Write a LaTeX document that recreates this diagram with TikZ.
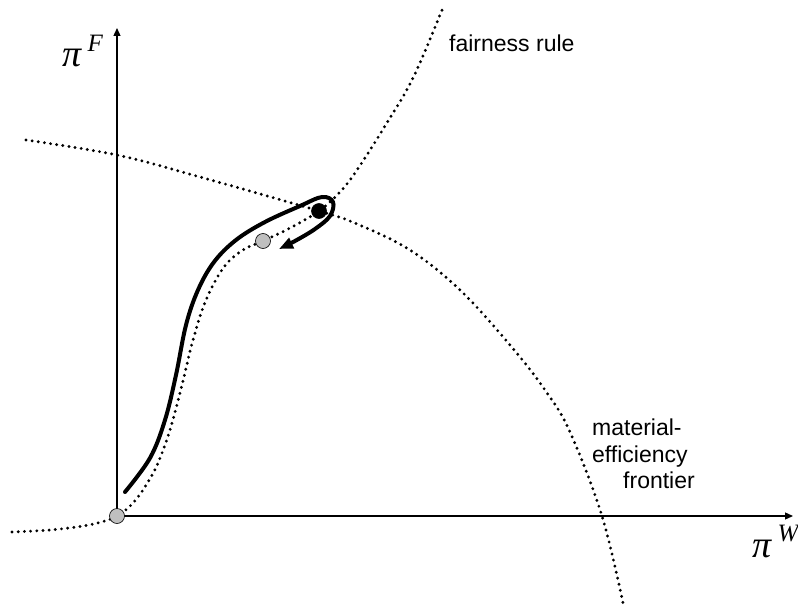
\documentclass[tikz,border=0pt]{standalone}
\usepackage{fontspec}
\setmainfont{Liberation Sans}
\newfontfamily\timesfont{Liberation Serif}
\usetikzlibrary{arrows.meta}
\begin{document}
\begin{tikzpicture}[x=1pt,y=-1pt,
 dotline/.style={line width=3.2pt, line cap=round, dash pattern=on 0pt off 6.2pt},
 axis/.style={line width=1.3pt, -{Triangle[length=8pt,width=7pt]}},
 pathline/.style={line width=4pt, line cap=round, -{Triangle[length=14pt,width=11pt]}},
 dotnode/.style={circle, draw=black, line width=0.6pt, minimum size=15pt, inner sep=0pt},
 lbl/.style={font=\fontsize{23}{27}\selectfont, inner sep=0pt, anchor=base west},
 mlbl/.style={font=\timesfont\itshape\fontsize{38}{40}\selectfont, inner sep=0pt, anchor=base west}
]
\useasboundingbox (0,0) rectangle (798,607);
% material-efficiency frontier
\draw[dotline] plot[smooth, tension=0.6] coordinates {(26,140) (117,155) (200,177) (319,211) (357,224) (410,250) (460,290) (510,345) (545,390) (570,432) (602,516) (623,603)};
% fairness rule
\draw[dotline] plot[smooth, tension=0.6] coordinates {(12,532) (50,530) (83,526) (105,521) (117,516) (128,508) (138,497) (148,482) (158,463) (170,430) (182,385) (193,340) (206,300) (224,267) (243,250) (263,241) (290,228) (319,211) (340,192) (357,170) (385,126) (413,78) (442,10)};
% axes
\coordinate (org) at (117,516);
\coordinate (xend) at (793,516);
\coordinate (yend) at (117,28);
\draw[axis] (org) -- (xend);
\draw[axis] (org) -- (yend);
% path
\draw[pathline] plot[smooth, tension=0.6] coordinates {(125,492) (150,458) (165,420) (176,375) (186,325) (198,290) (214,262) (236,240) (265,222) (300,206) (322,197) (333,202) (330,216) (315,229) (295,241) (279,249)};
% dots
\node[dotnode, fill=black!25] (o) at (org) {};
\node[dotnode, fill=black!25] (g) at (263,241) {};
\node[dotnode, fill=black] (b) at (319,211) {};
% labels
\node[mlbl] (piF) at (62,67) {π\,\raisebox{0.42em}{\fontsize{25}{25}\selectfont F}};
\node[mlbl] (piW) at (752,557) {π\,\raisebox{0.42em}{\fontsize{25}{25}\selectfont W}};
\node[lbl] (fr) at (449,52) {fairness rule};
\node[lbl] (m1) at (592,435) {material-};
\node[lbl] (m2) at (592,462) {efficiency};
\node[lbl] (m3) at (623,488) {frontier};
\end{tikzpicture}
\end{document}
